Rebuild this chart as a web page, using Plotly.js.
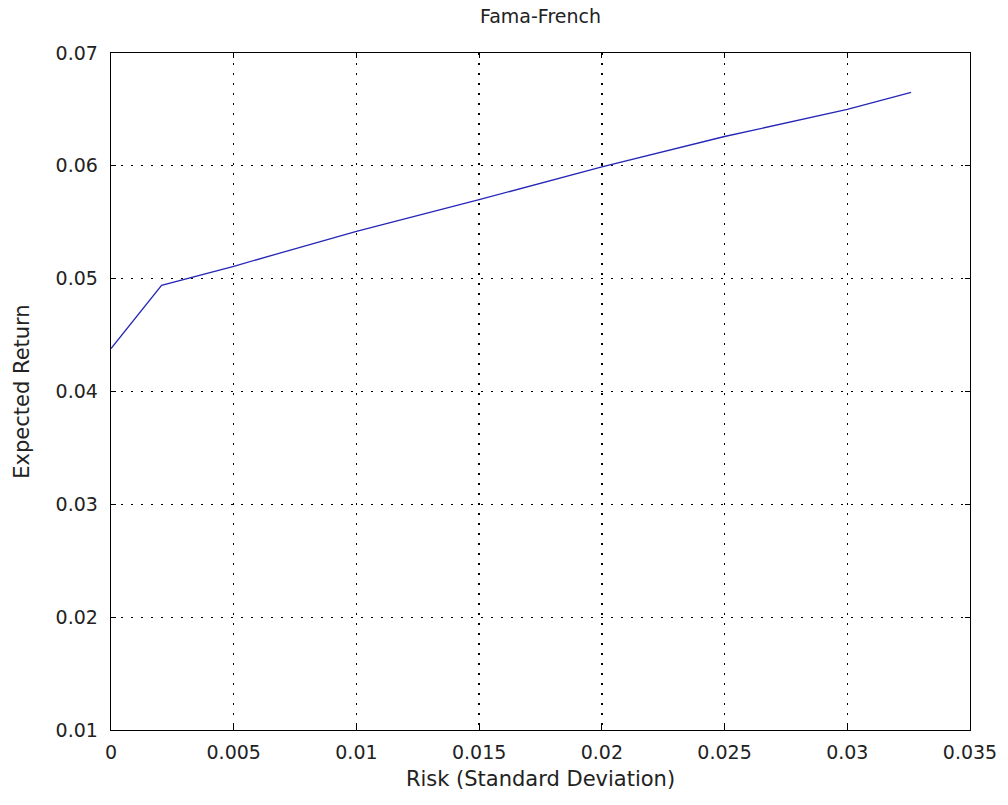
<!DOCTYPE html>
<html>
<head>
<meta charset="utf-8">
<script src="https://cdn.plot.ly/plotly-3.0.1.min.js"></script>
<style>
  html, body { margin: 0; padding: 0; background: #fff; }
  #chart { width: 1008px; height: 805px; }
</style>
</head>
<body>
<div id="chart"></div>
<script>
// Efficient frontier: portfolio risk vs expected return
const risk = [0, 0.00206, 0.005, 0.010, 0.015, 0.020, 0.025, 0.030, 0.0326];
const expectedReturn = [0.0438, 0.0494, 0.0511, 0.0542, 0.0570, 0.0599, 0.0626, 0.0650, 0.0665];

const xTicks = [0, 0.005, 0.01, 0.015, 0.02, 0.025, 0.03, 0.035];
const xTickText = ['0', '0.005', '0.01', '0.015', '0.02', '0.025', '0.03', '0.035'];
const yTicks = [0.01, 0.02, 0.03, 0.04, 0.05, 0.06, 0.07];
const yTickText = ['0.01', '0.02', '0.03', '0.04', '0.05', '0.06', '0.07'];

const font = 'DejaVu Sans, Liberation Sans, sans-serif';

const trace = {
  x: risk,
  y: expectedReturn,
  mode: 'lines',
  line: { color: '#2626b8', width: 1.3 },
  hoverinfo: 'skip'
};

const axisCommon = {
  showline: true,
  linecolor: '#000',
  linewidth: 1.3,
  mirror: 'allticks',
  ticks: 'inside',
  ticklen: 5,
  tickcolor: '#000',
  showgrid: true,
  gridcolor: '#000',
  gridwidth: 1.3,
  griddash: '1.5px,8.5px',
  zeroline: false,
  tickfont: { family: font, size: 19, color: '#222' }
};

const layout = {
  width: 1008,
  height: 805,
  margin: { l: 111, r: 38, t: 53, b: 75 },
  paper_bgcolor: '#fff',
  plot_bgcolor: '#fff',
  showlegend: false,
  title: {
    text: 'Fama-French',
    font: { family: font, size: 19, color: '#222' },
    x: 0.5 * (111 + 970) / 1008,
    xanchor: 'center',
    y: 1 - 16 / 805,
    yanchor: 'middle'
  },
  xaxis: Object.assign({}, axisCommon, {
    range: [0, 0.035],
    tickvals: xTicks,
    ticktext: xTickText,
    ticklabelstandoff: 5,
    title: { text: 'Risk (Standard Deviation)', font: { family: font, size: 21, color: '#222' }, standoff: 9 }
  }),
  yaxis: Object.assign({}, axisCommon, {
    range: [0.01, 0.07],
    tickvals: yTicks,
    ticktext: yTickText,
    ticklabelstandoff: 8,
    title: { text: 'Expected Return', font: { family: font, size: 21, color: '#222' }, standoff: 20 }
  })
};

Plotly.newPlot('chart', [trace], layout, { displayModeBar: false, staticPlot: true });
</script>
</body>
</html>
